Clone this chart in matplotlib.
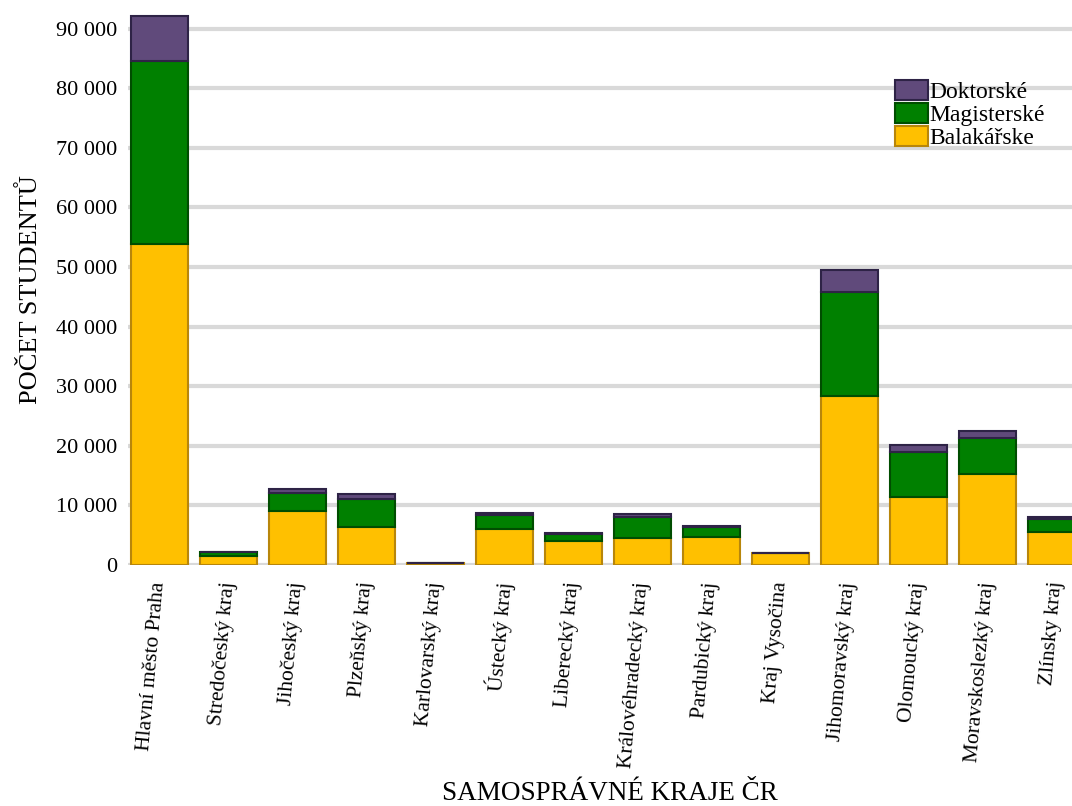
import matplotlib.pyplot as plt
from matplotlib.ticker import FuncFormatter
import numpy as np

plt.rcParams['font.family'] = ['Liberation Serif', 'DejaVu Serif']

regions = ["Hlavní město Praha", "Stredočeský kraj", "Jihočeský kraj", "Plzeňský kraj",
           "Karlovarský kraj", "Ústecký kraj", "Liberecký kraj", "Královéhradecký kraj",
           "Pardubický kraj", "Kraj Vysočina", "Jihomoravský kraj", "Olomoucký kraj",
           "Moravskoslezký kraj", "Zlínsky kraj"]
bachelor = [53860, 1500, 9060, 6300, 350, 6040, 4030, 4530, 4700, 2000, 28360, 11400, 15270, 5540]
master = [30700, 600, 3020, 4770, 0, 2350, 1170, 3520, 1680, 0, 17440, 7560, 6030, 2180]
doctoral = [7540, 100, 670, 830, 0, 330, 170, 510, 160, 0, 3700, 1170, 1180, 330]

def main():
    fig = plt.figure(figsize=(10.72, 8.06), dpi=100)
    ax = fig.add_axes([128 / 1072, 1 - 565 / 806, (1072 - 128) / 1072, (565 - 13.7) / 806])

    x = np.arange(len(regions))
    b = np.array(bachelor)
    m = np.array(master)
    d = np.array(doctoral)
    w = 0.83
    ax.bar(x, b, w, color="#ffc000", edgecolor="#b8860b", linewidth=1.5, label="Balakářske", zorder=3)
    ax.bar(x, m, w, bottom=b, color="#008000", edgecolor="#004d00", linewidth=1.5, label="Magisterské", zorder=3)
    ax.bar(x, d, w, bottom=b + m, color="#604a7b", edgecolor="#2e2346", linewidth=1.5, label="Doktorské", zorder=3)

    ax.set_xlim(-0.46, 13.22)
    ax.set_ylim(0, 92500)
    ax.set_yticks(range(0, 90001, 10000))
    ax.yaxis.set_major_formatter(FuncFormatter(lambda v, p: f"{int(v):,}".replace(",", " ")))
    ax.grid(axis="y", color="#d9d9d9", linewidth=3, zorder=0)
    for s in ax.spines.values():
        s.set_visible(False)

    ax.set_xticks(x)
    ax.set_xticklabels(regions, rotation=85, ha="right", va="center", rotation_mode="anchor", fontsize=15.5)
    ax.tick_params(axis="x", direction="in", color="white", length=5, width=2, pad=12, zorder=4)
    ax.tick_params(axis="y", length=0, labelsize=16, pad=8)

    ax.set_ylabel("POČET STUDENTŮ", fontsize=19, labelpad=10)
    fig.text(610 / 1072, 0.0, "SAMOSPRÁVNÉ KRAJE ČR", fontsize=19.5, ha="center", va="bottom")

    handles, labels = ax.get_legend_handles_labels()
    ax.legend(handles[::-1], labels[::-1], loc="upper left", bbox_to_anchor=(0.8, 0.902),
              frameon=False, fontsize=17, handlelength=1.4, handleheight=0.95,
              handletextpad=0.05, labelspacing=0.0, borderpad=0)

    plt.savefig("out.png", dpi=100)

if __name__ == "__main__":
    main()
